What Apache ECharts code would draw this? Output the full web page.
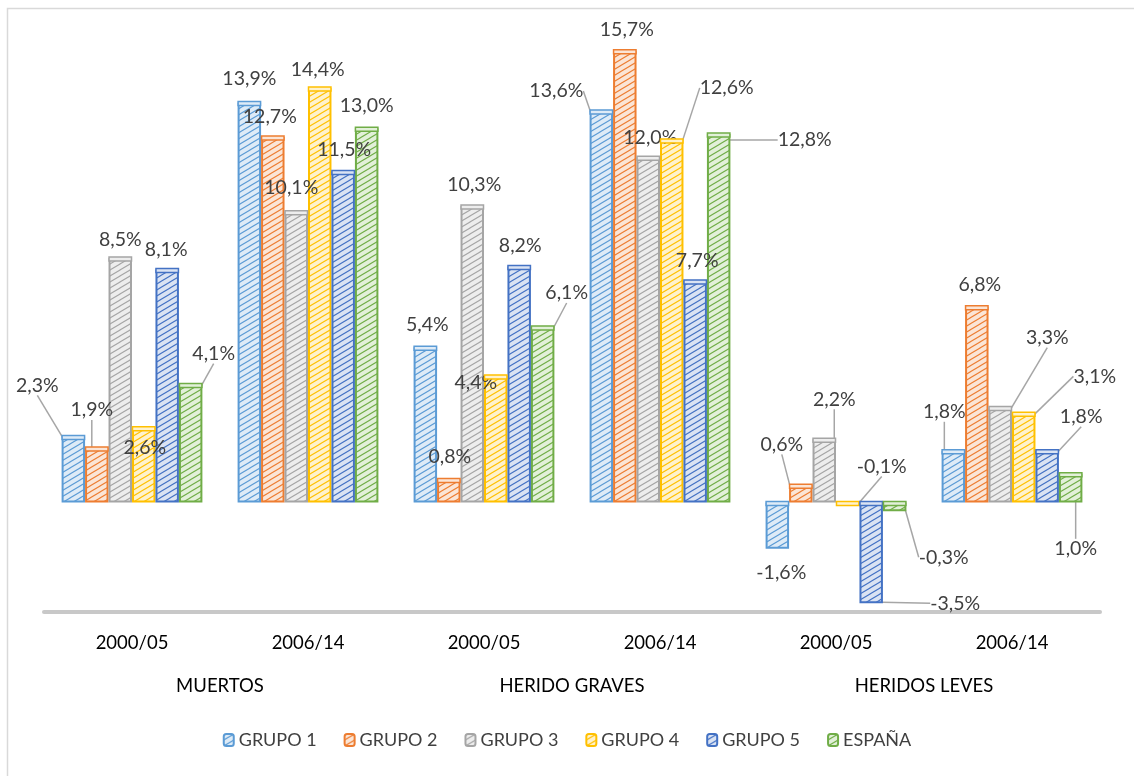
<!DOCTYPE html>
<html><head><meta charset="utf-8">
<script src="https://cdn.jsdelivr.net/npm/echarts@6/dist/echarts.min.js"></script>
<style>html,body{margin:0;padding:0;background:#fff}#c{width:1134px;height:776px}</style>
</head><body><div id="c"></div>
<script>
// ---- data ----
const categories = ['2000/05', '2006/14', '2000/05', '2006/14', '2000/05', '2006/14'];
const groups = ['MUERTOS', 'HERIDO GRAVES', 'HERIDOS LEVES'];
const seriesNames = ['GRUPO 1', 'GRUPO 2', 'GRUPO 3', 'GRUPO 4', 'GRUPO 5', 'ESPAÑA'];
const grupo1 = [2.3, 13.9, 5.4, 13.6, -1.6, 1.8];
const grupo2 = [1.9, 12.7, 0.8, 15.7, 0.6, 6.8];
const grupo3 = [8.5, 10.1, 10.3, 12.0, 2.2, 3.3];
const grupo4 = [2.6, 14.4, 4.4, 12.6, -0.1, 3.1];
const grupo5 = [8.1, 11.5, 8.2, 7.7, -3.5, 1.8];
const espana = [4.1, 13.0, 6.1, 12.8, -0.3, 1.0];
const values = [grupo1, grupo2, grupo3, grupo4, grupo5, espana];

// ---- styles ----
const colors = ['#5B9BD5', '#ED7D31', '#A5A5A5', '#FFC000', '#4472C4', '#70AD47'];
const tints  = ['#DEEBF7', '#FBE5D6', '#EDEDED', '#FFF2CC', '#DAE3F3', '#E2F0D9'];
// label offsets [dx, dy, leaderLine] relative to bar end
const labelOffsets = [
  [[-36,-51,1],[0,-24,0],[2,-22,0],[-45,-20,1],[4,24,0],[-9,-39,1]],
  [[-5,-38,1],[-3,-20,0],[1,-23,0],[2,-21,0],[-19,-41,1],[3,-22,0]],
  [[0,-18,0],[-5,-24,0],[2,-21,0],[2,-19,0],[10,-40,1],[47,-70,1]],
  [[1,20,0],[-2,-18,0],[-20,7,0],[55,-52,1],[34,-39,1],[71,-37,1]],
  [[-1,-20,0],[1,-22,0],[1,-21,0],[2,-20,0],[84,0,1],[34,-34,1]],
  [[23,-31,1],[0,-23,0],[24,-34,1],[86,6,1],[49,46,1],[5,75,1]]
];
const FONT = 'Lato';

function makePattern(bg, fg) {
  const w = 10, h = 6;
  const c = document.createElement('canvas');
  c.width = w; c.height = h;
  const g = c.getContext('2d');
  g.fillStyle = bg; g.fillRect(0, 0, w, h);
  g.strokeStyle = fg; g.lineWidth = 1.1;
  g.beginPath();
  for (let k = -1; k <= 1; k++) {
    g.moveTo(-10, 12 + 6 * k);
    g.lineTo(20, -6 + 6 * k);
  }
  g.stroke();
  return c;
}

const fmt = v => v.toFixed(1).replace('.', ',') + '%';

const barSeries = values.map((arr, s) => ({
  name: seriesNames[s],
  type: 'bar',
  barGap: '0%',
  barCategoryGap: '20%',
  itemStyle: {
    color: { image: makePattern(tints[s], colors[s]), repeat: 'repeat' },
    borderColor: colors[s],
    borderWidth: 2
  },
  label: {
    show: true,
    position: 'top',
    formatter: p => fmt(p.value),
    fontFamily: FONT,
    fontSize: 19.5,
    color: '#404040'
  },
  labelLine: { show: true, lineStyle: { color: '#A6A6A6', width: 1.5 } },
  labelLayout: function (p) {
    const si = p.seriesIndex, i = p.dataIndex;
    const v = values[si][i];
    const r = p.rect;
    const off = labelOffsets[si][i];
    const cx = r.x + r.width / 2;
    const ey = v >= 0 ? r.y : r.y + r.height;
    return { x: cx + off[0], y: ey + off[1], align: 'center', verticalAlign: 'middle' };
  },
  data: arr.map((v, i) => ({
    value: v,
    labelLine: { show: !!labelOffsets[s][i][2] }
  })),
  z: 2
}));

const capData = [];
values.forEach((arr, s) => arr.forEach((v, i) => capData.push([i, v, s])));

const capSeries = {
  type: 'custom',
  silent: true,
  z: 3,
  encode: { x: 0, y: 1 },
  data: capData,
  renderItem: function (params, api) {
    const cat = api.value(0), v = api.value(1), s = api.value(2);
    const bw = api.size([1, 0])[0];
    const barW = bw * 0.8 / 6;
    const c = api.coord([cat, Math.max(v, 0)]);
    const x0 = c[0] - bw * 0.4 + s * barW;
    return {
      type: 'rect',
      shape: { x: x0 + 0.5, y: c[1] - 1, width: barW - 1, height: 4 },
      style: { fill: tints[s], stroke: colors[s], lineWidth: 1.5 }
    };
  }
};

const chart = echarts.init(document.getElementById('c'), null, { renderer: 'canvas' });
chart.setOption({
  animation: false,
  backgroundColor: '#fff',
  textStyle: { fontFamily: FONT },
  graphic: [{
    type: 'rect',
    shape: { x: 7.5, y: 8.5, width: 1150, height: 800 },
    style: { fill: 'none', stroke: '#D9D9D9', lineWidth: 1.5 },
    silent: true
  }],
  grid: { left: 44, right: 34, top: 42, bottom: 164 },
  legend: {
    data: seriesNames,
    bottom: 22,
    left: 'center',
    itemWidth: 10,
    itemHeight: 12,
    itemGap: 27,
    textStyle: { fontFamily: FONT, fontSize: 18, color: '#404040' }
  },
  xAxis: [{
    type: 'category',
    data: categories,
    axisLine: { onZero: false, lineStyle: { color: '#C8C8C8', width: 4 } },
    axisTick: { show: false },
    axisLabel: { margin: 22, fontFamily: FONT, fontSize: 18.5, color: '#000' }
  }, {
    type: 'category',
    data: groups,
    position: 'bottom',
    axisLine: { show: false },
    axisTick: { show: false },
    axisLabel: { margin: 65, fontFamily: FONT, fontSize: 18.5, color: '#000' }
  }],
  yAxis: {
    type: 'value',
    min: -3.8,
    max: 16,
    show: false,
    splitLine: { show: false }
  },
  series: barSeries.concat([capSeries])
});
</script>
</body></html>
